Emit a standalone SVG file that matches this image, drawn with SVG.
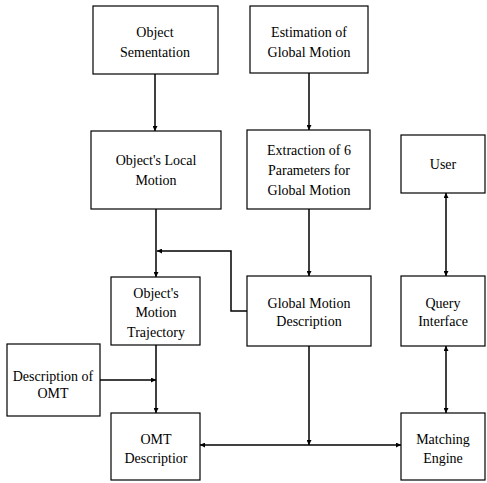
<svg xmlns="http://www.w3.org/2000/svg" width="487" height="483" viewBox="0 0 487 483">
<defs>
<style>
.box{fill:#fff;stroke:#000;stroke-width:1.2}
.lbl{font-family:"Liberation Serif","Times New Roman",serif;font-size:14px;fill:#000;text-anchor:middle}
.con{fill:none;stroke:#000;stroke-width:1.5}
</style>
<marker id="ah" viewBox="0 0 10 10" refX="10" refY="5" markerWidth="5" markerHeight="5" orient="auto-start-reverse" markerUnits="userSpaceOnUse">
<path d="M0,0 L10,5 L0,10 z" fill="#000"/>
</marker>
</defs>
<rect width="487" height="483" fill="#fff"/>
<g id="connectors">
<path class="con" d="M155,74 V131" marker-end="url(#ah)"/>
<path class="con" d="M309,73 V130" marker-end="url(#ah)"/>
<path class="con" d="M156,209 V277" marker-end="url(#ah)"/>
<path class="con" d="M309,209 V276" marker-end="url(#ah)"/>
<path class="con" d="M247,311 H231 V251 H157" marker-end="url(#ah)"/>
<path class="con" d="M446,193 V276" marker-start="url(#ah)" marker-end="url(#ah)"/>
<path class="con" d="M446,346 V413" marker-start="url(#ah)" marker-end="url(#ah)"/>
<path class="con" d="M156,345 V413" marker-end="url(#ah)"/>
<path class="con" d="M100,380 H156" marker-end="url(#ah)"/>
<path class="con" d="M309,346 V445" marker-end="url(#ah)"/>
<path class="con" d="M309,445 H401" marker-end="url(#ah)"/>
<path class="con" d="M309,445 H200" marker-end="url(#ah)"/>
</g>
<g id="object-sementation">
<rect class="box" x="93" y="6" width="125" height="68"/>
<text class="lbl" x="155" y="37">Object</text>
<text class="lbl" x="155" y="57">Sementation</text>
</g>
<g id="estimation-global-motion">
<rect class="box" x="250" y="6" width="118" height="67"/>
<text class="lbl" x="309" y="37">Estimation of</text>
<text class="lbl" x="309" y="57">Global Motion</text>
</g>
<g id="object-local-motion">
<rect class="box" x="91" y="131" width="130" height="78"/>
<text class="lbl" x="156" y="165">Object's Local</text>
<text class="lbl" x="156" y="185">Motion</text>
</g>
<g id="extraction-parameters">
<rect class="box" x="247" y="130" width="123" height="79"/>
<text class="lbl" x="309" y="155">Extraction of 6</text>
<text class="lbl" x="309" y="175">Parameters for</text>
<text class="lbl" x="309" y="195">Global Motion</text>
</g>
<g id="user">
<rect class="box" x="401" y="135" width="84" height="58"/>
<text class="lbl" x="443" y="169">User</text>
</g>
<g id="object-motion-trajectory">
<rect class="box" x="111" y="277" width="89" height="68"/>
<text class="lbl" x="156" y="298">Object's</text>
<text class="lbl" x="156" y="317">Motion</text>
<text class="lbl" x="156" y="337">Trajectory</text>
</g>
<g id="global-motion-description">
<rect class="box" x="247" y="276" width="124" height="70"/>
<text class="lbl" x="309" y="308">Global Motion</text>
<text class="lbl" x="309" y="326">Description</text>
</g>
<g id="query-interface">
<rect class="box" x="401" y="276" width="84" height="70"/>
<text class="lbl" x="443" y="308">Query</text>
<text class="lbl" x="443" y="326">Interface</text>
</g>
<g id="description-of-omt">
<rect class="box" x="7" y="344" width="93" height="72"/>
<text class="lbl" x="53" y="381">Description of</text>
<text class="lbl" x="53" y="398">OMT</text>
</g>
<g id="omt-descriptor">
<rect class="box" x="111" y="413" width="89" height="67"/>
<text class="lbl" x="156" y="444">OMT</text>
<text class="lbl" x="156" y="463">Descriptior</text>
</g>
<g id="matching-engine">
<rect class="box" x="401" y="413" width="84" height="67"/>
<text class="lbl" x="443" y="444">Matching</text>
<text class="lbl" x="443" y="463">Engine</text>
</g>
</svg>
